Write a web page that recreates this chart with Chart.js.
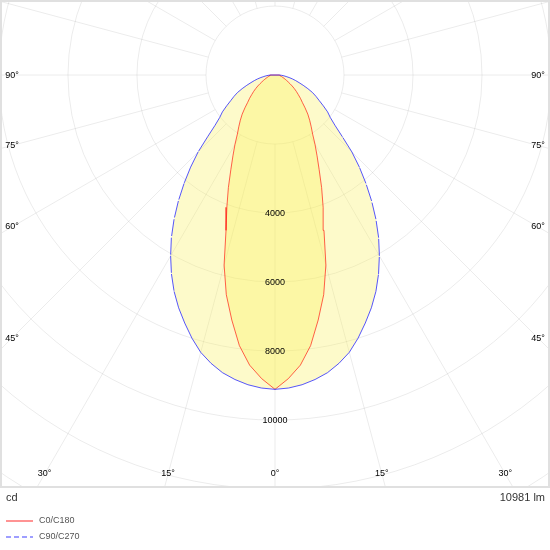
<!DOCTYPE html>
<html>
<head>
<meta charset="utf-8">
<script src="https://cdn.jsdelivr.net/npm/chart.js@4.4.1/dist/chart.umd.min.js"></script>
<style>
html,body{margin:0;padding:0;background:#fff;}
#wrap{width:550px;height:550px;position:relative;}
</style>
</head>
<body>
<div id="wrap"><canvas id="c"></canvas></div>
<script>
// ---- data ----
const gammaAngles = [0,2.5,5,7.5,10,12.5,15,17.5,20,22.5,25,27.5,30,32.5,35,37.5,40,42.5,45,47.5,50,52.5,55,57.5,60,62.5,65,67.5,70,72.5,75,77.5,80,82.5,85,87.5,90];
const intensityC0C180 = [9110,8810,8440,7910,7210,6520,5700,4720,4080,3530,3030,2640,2320,2030,1830,1650,1480,1290,1120,1000,880,780,680,590,500,430,370,320,280,245,215,195,175,160,150,140,130];
const intensityC90C270 = [9110,9080,9010,8900,8760,8560,8320,8000,7650,7300,6920,6500,6050,5590,5100,4600,4100,3620,3150,2650,2270,2020,1860,1660,1480,1340,1200,1030,870,730,620,515,415,325,260,195,140];
const seriesNames = ['C0/C180','C90/C270'];
const ringValues = [2000,4000,6000,8000,10000,12000,14000];
const ringLabels = ['4000','6000','8000','10000'];
const angleLabels = [0,15,30,45,60,75,90];
const unitLabel = 'cd';
const fluxLabel = '10981 lm';

// polar (gamma, intensity) -> cartesian data values, C180/C270 half on the left
function curvePoints(vals){
  const pts = [];
  for (let i = gammaAngles.length - 1; i >= 0; i--) {
    const a = gammaAngles[i] * Math.PI / 180;
    pts.push({x: -vals[i] * Math.sin(a), y: -vals[i] * Math.cos(a)});
  }
  for (let i = 1; i < gammaAngles.length; i++) {
    const a = gammaAngles[i] * Math.PI / 180;
    pts.push({x: vals[i] * Math.sin(a), y: -vals[i] * Math.cos(a)});
  }
  pts.push({x: pts[0].x, y: pts[0].y});
  return pts;
}
const redPts = curvePoints(intensityC0C180);
const bluePts = curvePoints(intensityC90C270);

const FONT = '"Liberation Sans", Arial, sans-serif';
const FILL = 'rgba(250,240,80,0.3)';
const legendStyles = [
  {color: 'rgba(255,40,40,0.5)', dash: []},
  {color: 'rgba(40,40,255,0.45)', dash: [5,3]}
];

const polarDecor = {
  id: 'polarDecor',
  beforeDatasetsDraw(chart){
    const {ctx, chartArea: a, scales: {x, y}} = chart;
    const cx = x.getPixelForValue(0), cy = y.getPixelForValue(0);
    const rpx = v => x.getPixelForValue(v) - cx;
    ctx.save();
    ctx.beginPath();
    ctx.rect(a.left, a.top, a.right - a.left, a.bottom - a.top);
    ctx.clip();
    ctx.strokeStyle = 'rgba(0,0,0,0.08)';
    ctx.lineWidth = 1;
    ringValues.forEach(v => {
      ctx.beginPath();
      ctx.arc(cx, cy, rpx(v), 0, Math.PI * 2);
      ctx.stroke();
    });
    const r0 = rpx(ringValues[0]);
    for (let d = 0; d < 360; d += 15) {
      const t = d * Math.PI / 180;
      ctx.beginPath();
      ctx.moveTo(cx + r0 * Math.sin(t), cy + r0 * Math.cos(t));
      ctx.lineTo(cx + 1500 * Math.sin(t), cy + 1500 * Math.cos(t));
      ctx.stroke();
    }
    ctx.restore();
  },
  afterDatasetsDraw(chart){
    const {ctx, chartArea: a, scales: {x, y}} = chart;
    const cx = x.getPixelForValue(0), cy = y.getPixelForValue(0);
    const rpx = v => x.getPixelForValue(v) - cx;
    ctx.save();
    ctx.fillStyle = '#000';
    ctx.font = '9px ' + FONT;
    ctx.textAlign = 'center';
    ctx.textBaseline = 'middle';
    ringLabels.forEach(l => {
      ctx.fillText(l, cx, cy + rpx(Number(l)));
    });
    // angle labels on an inset frame
    const left = a.left + 12, bottom = a.bottom - 13;
    angleLabels.forEach(g => {
      const t = g * Math.PI / 180;
      const s = Math.sin(t), c = Math.cos(t);
      let d = Infinity;
      if (s > 1e-9) d = Math.min(d, (cx - left) / s);
      if (c > 1e-9) d = Math.min(d, (bottom - cy) / c);
      const px = d * s, py = cy + d * c;
      const txt = g + '°';
      if (g === 0) { ctx.fillText(txt, cx, py); }
      else {
        ctx.fillText(txt, cx - px, py);
        ctx.fillText(txt, cx + px, py);
      }
    });
    // frame
    ctx.strokeStyle = '#e0e0e0';
    ctx.lineWidth = 2;
    ctx.strokeRect(a.left + 1, a.top + 1, a.right - a.left - 2, a.bottom - a.top - 1);
    // unit + flux
    ctx.fillStyle = '#333';
    ctx.font = '11px ' + FONT;
    ctx.textAlign = 'left';
    ctx.fillText(unitLabel, a.left + 6, a.bottom + 11);
    ctx.textAlign = 'right';
    ctx.fillText(fluxLabel, a.right - 5, a.bottom + 11);
    // legend
    ctx.font = '9px ' + FONT;
    ctx.textAlign = 'left';
    ctx.fillStyle = '#555';
    chart.data.datasets.slice(0, 2).forEach((ds, i) => {
      const ly = a.bottom + 34 + i * 16;
      ctx.save();
      ctx.strokeStyle = legendStyles[i].color;
      ctx.lineWidth = 2;
      ctx.setLineDash(legendStyles[i].dash);
      ctx.beginPath();
      ctx.moveTo(a.left + 6, ly);
      ctx.lineTo(a.left + 33, ly);
      ctx.stroke();
      ctx.restore();
      ctx.fillText(ds.label, a.left + 39, ly);
    });
    ctx.restore();
  }
};

Chart.defaults.font.family = FONT;

new Chart(document.getElementById('c'), {
  type: 'scatter',
  data: {
    datasets: [
      {
        label: seriesNames[0],
        data: redPts,
        showLine: true,
        pointRadius: 0,
        borderColor: 'rgba(255,30,20,0.7)',
        borderWidth: 1,
        fill: 'shape',
        backgroundColor: FILL,
        order: 2
      },
      {
        label: seriesNames[1],
        data: bluePts,
        showLine: true,
        pointRadius: 0,
        borderColor: 'rgba(30,30,255,0.75)',
        borderWidth: 1,
        borderDash: [17,3],
        fill: false,
        order: 1,
        segment: { borderDashOffset: c => (c.p0DataIndex % 2) * 0.01 }
      },
      {
        label: seriesNames[1] + ' area',
        data: bluePts,
        showLine: true,
        pointRadius: 0,
        borderWidth: 0,
        fill: 'shape',
        backgroundColor: FILL,
        order: 3
      }
    ]
  },
  options: {
    responsive: true,
    maintainAspectRatio: false,
    animation: false,
    events: [],
    layout: { padding: { left: 0, right: 0, top: 0, bottom: 63 } },
    scales: {
      x: { type: 'linear', display: false, min: -7970, max: 7970 },
      y: { type: 'linear', display: false, min: -11940, max: 2175 }
    },
    plugins: {
      legend: { display: false },
      tooltip: { enabled: false }
    }
  },
  plugins: [polarDecor]
});
</script>
</body>
</html>
